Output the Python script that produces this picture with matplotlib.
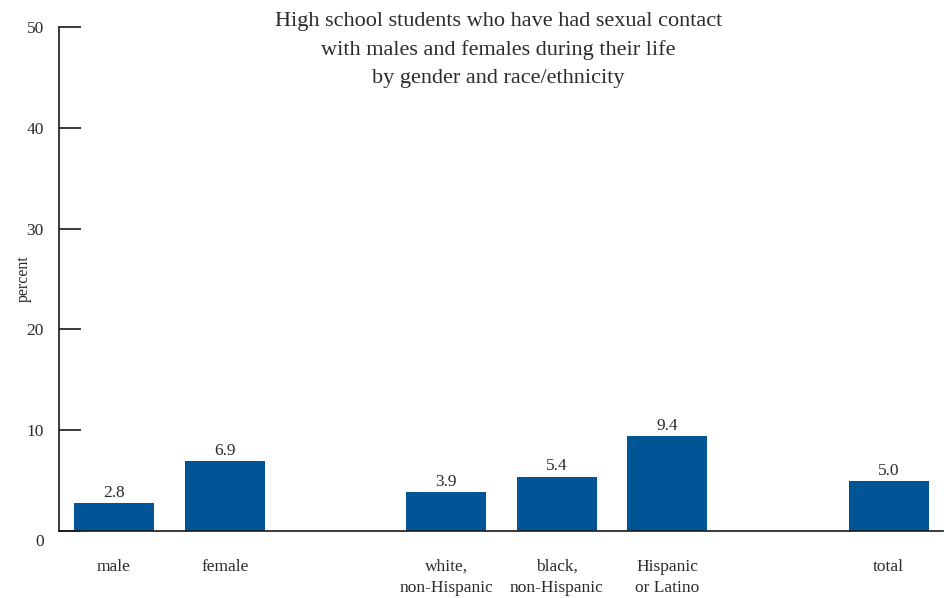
"""
Bar chart: high school students who have had sexual contact with
males and females during their life, by gender and race/ethnicity.

Saves out.png (948x598).
"""

import matplotlib
matplotlib.use("Agg")
import matplotlib.pyplot as plt


CATEGORIES = ["male", "female", "white,\nnon-Hispanic", "black,\nnon-Hispanic",
              "Hispanic\nor Latino", "total"]
POSITIONS = [0, 1, 3, 4, 5, 7]
VALUES = [2.8, 6.9, 3.9, 5.4, 9.4, 5.0]
Y_TICKS = [0, 10, 20, 30, 40, 50]

TITLE = ("High school students who have had sexual contact\n"
         "with males and females during their life\n"
         "by gender and race/ethnicity")

BAR_COLOR = "#005596"
TEXT_COLOR = "#2b2b2b"


def main():
    plt.rcParams["font.family"] = ["Liberation Serif", "DejaVu Serif"]

    fig = plt.figure(figsize=(9.48, 5.98), dpi=100)
    ax = fig.add_axes([59 / 948, 1 - 531 / 598, (943 - 59) / 948, (531 - 27) / 598])

    ax.bar(POSITIONS, VALUES, width=0.723, color=BAR_COLOR, zorder=2)

    for x, v in zip(POSITIONS, VALUES):
        ax.annotate(f"{v:.1f}", (x, v), xytext=(0, 1.5), textcoords="offset points",
                    ha="center", va="bottom", fontsize=12.5, color=TEXT_COLOR)

    ax.set_xlim(-0.497, 7.49)
    ax.set_ylim(0, 50)

    ax.set_xticks(POSITIONS)
    ax.set_xticklabels(CATEGORIES, fontsize=12.5, color=TEXT_COLOR, linespacing=1.4)
    ax.tick_params(axis="x", length=0, pad=20)

    ax.set_yticks(Y_TICKS)
    ax.set_yticklabels([""] + [str(t) for t in Y_TICKS[1:]], fontsize=12.5, color=TEXT_COLOR)
    ax.tick_params(axis="y", direction="in", length=16, width=1.2, pad=11, colors="#1a1a1a",
                   labelcolor=TEXT_COLOR)
    # zero label sits a bit below the baseline in the original
    ax.annotate("0", (0, 0), xycoords=("axes fraction", "data"), xytext=(-11, -8),
                textcoords="offset points", ha="right", va="center",
                fontsize=12.5, color=TEXT_COLOR)

    ax.set_ylabel("percent", fontsize=11.5, color=TEXT_COLOR)
    ax.yaxis.set_label_coords(-0.031, 0.5)

    for side in ["top", "right"]:
        ax.spines[side].set_visible(False)
    for side in ["left", "bottom"]:
        ax.spines[side].set_linewidth(1.2)
        ax.spines[side].set_color("#1a1a1a")

    ax.annotate(TITLE, (0.497, 1.0), xycoords="axes fraction", xytext=(0, -16.5),
                textcoords="offset points", ha="center", va="center",
                fontsize=16, color=TEXT_COLOR, linespacing=1.6)

    fig.savefig("out.png", dpi=100)
    plt.close(fig)


if __name__ == "__main__":
    main()
